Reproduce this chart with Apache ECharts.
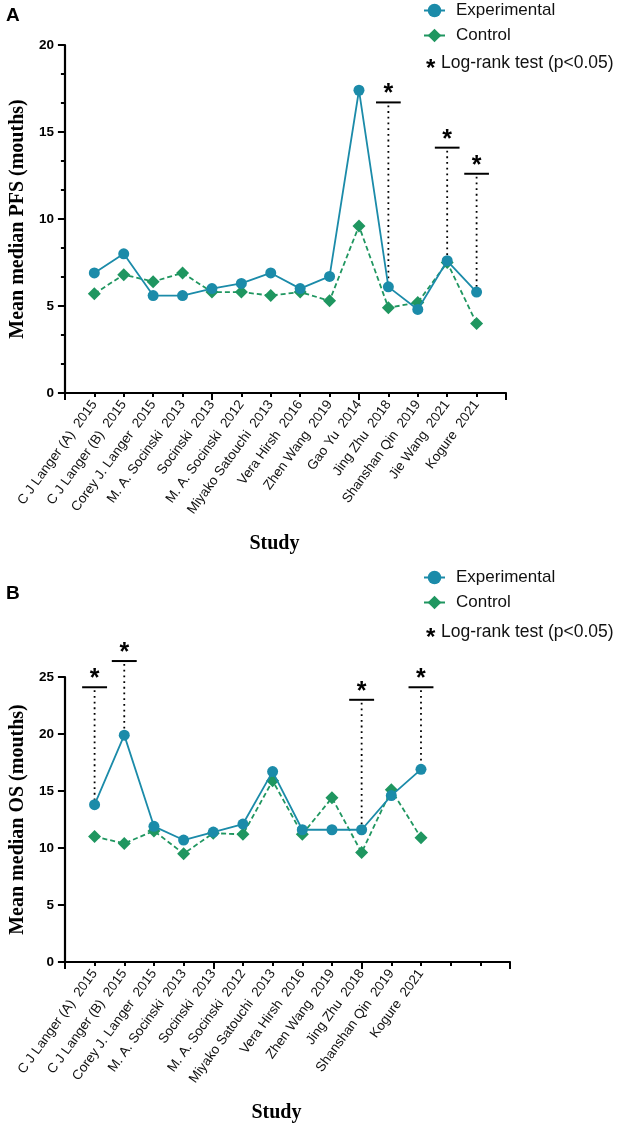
<!DOCTYPE html>
<html>
<head>
<meta charset="utf-8">
<script src="https://cdn.jsdelivr.net/npm/echarts@6/dist/echarts.min.js"></script>
<style>
  html, body { margin: 0; padding: 0; background: #fff; }
  #main { width: 624px; height: 1128px; }
</style>
</head>
<body>
<div id="main"></div>
<script>
// panel A: PFS
var studiesA = ['C J Langer (A)  2015', 'C J Langer (B)  2015', 'Corey J. Langer  2015', 'M. A. Socinski  2013',
    'Socinski  2013', 'M. A. Socinski  2012', 'Miyako Satouchi  2013', 'Vera Hirsh  2016', 'Zhen Wang  2019',
    'Gao Yu  2014', 'Jing Zhu  2018', 'Shanshan Qin  2019', 'Jie Wang  2021', 'Kogure  2021'];
var expA = [6.9, 8.0, 5.6, 5.6, 6.0, 6.3, 6.9, 6.0, 6.7, 17.4, 6.1, 4.8, 7.6, 5.8];
var ctrlA = [5.7, 6.8, 6.4, 6.9, 5.8, 5.8, 5.6, 5.8, 5.3, 9.6, 4.9, 5.2, 7.5, 4.0];
var sigIdxA = [11, 13, 14];
var sigTopA = [16.7, 14.1, 12.6];
var yTicksA = [0, 20];

// panel B: OS
var studiesB = ['C J Langer (A)  2015', 'C J Langer (B)  2015', 'Corey J. Langer  2015', 'M. A. Socinski  2013',
    'Socinski  2013', 'M. A. Socinski  2012', 'Miyako Satouchi  2013', 'Vera Hirsh  2016', 'Zhen Wang  2019',
    'Jing Zhu  2018', 'Shanshan Qin  2019', 'Kogure  2021'];
var expB = [13.8, 19.9, 11.9, 10.7, 11.4, 12.1, 16.7, 11.6, 11.6, 11.6, 14.6, 16.9];
var ctrlB = [11.0, 10.4, 11.5, 9.5, 11.3, 11.2, 15.9, 11.2, 14.4, 9.6, 15.1, 10.9];
var sigIdxB = [1, 2, 10, 12];
var sigTopB = [24.1, 26.4, 23.0, 24.1];
var yTicksB = [0, 25];

var C_EXP = '#1b8ba9';
var C_CTRL = '#1f9660';
var SANS = 'Liberation Sans, Arial, sans-serif';
var SERIF = 'Liberation Serif, Times New Roman, serif';

var chart = echarts.init(document.getElementById('main'));

function pairs(arr) {
    return arr.map(function (v, i) { return [i + 1, v]; });
}

function sigData(idx, tops, exp) {
    return idx.map(function (k, i) { return [k, tops[i], exp[k - 1]]; });
}

// horizontal bar + asterisk + dotted drop line to the experimental point
function renderSig(params, api) {
    var x = api.value(0);
    var p = api.coord([x, api.value(1)]);
    var q = api.coord([x, api.value(2)]);
    var w = api.size([0.84, 0])[0] / 2;
    return {
        type: 'group',
        children: [
            { type: 'line', shape: { x1: p[0] - w, y1: p[1], x2: p[0] + w, y2: p[1] },
              style: { stroke: '#000', lineWidth: 2 } },
            { type: 'line', shape: { x1: p[0], y1: p[1] + 3, x2: p[0], y2: q[1] },
              style: { stroke: '#000', lineWidth: 1.8, lineDash: [1.8, 3.9] } },
            { type: 'text', style: { text: '*', x: p[0], y: p[1] - 8, textAlign: 'center', textVerticalAlign: 'middle',
              font: 'bold 25px ' + SANS, fill: '#000' } }
        ]
    };
}

function xAxes(gridIndex, names) {
    return [{
        gridIndex: gridIndex, type: 'value', position: 'bottom', min: 0, max: 15, interval: 5,
        axisLine: { lineStyle: { color: '#000', width: 2.2 } },
        axisTick: { length: 7, lineStyle: { color: '#000', width: 2 } },
        minorTick: { show: true, splitNumber: 5, length: 4, lineStyle: { color: '#000', width: 2 } },
        axisLabel: { show: false },
        splitLine: { show: false },
        name: 'Study', nameLocation: 'middle', nameGap: 141,
        nameTextStyle: { fontFamily: SERIF, fontWeight: 'bold', fontSize: 20, color: '#000', padding: [0, 22, 0, 0] }
    }, {
        gridIndex: gridIndex, type: 'value', position: 'bottom', min: 0, max: 15, interval: 1,
        axisLine: { show: false }, axisTick: { show: false }, splitLine: { show: false },
        axisLabel: {
            rotate: 54, margin: 9, fontFamily: SANS, fontSize: 13.5, color: '#111',
            formatter: function (v) { return names[v - 1] || ''; }
        }
    }];
}

function yAxis(gridIndex, ticks, title, minor) {
    return {
        gridIndex: gridIndex, type: 'value', min: ticks[0], max: ticks[1], interval: 5,
        axisLine: { show: true, lineStyle: { color: '#000', width: 2.2 } },
        axisTick: { show: true, length: 7, lineStyle: { color: '#000', width: 2 } },
        minorTick: { show: minor, splitNumber: 3, length: 4, lineStyle: { color: '#000', width: 2 } },
        splitLine: { show: false },
        axisLabel: { margin: 11, fontFamily: SANS, fontWeight: 'bold', fontSize: 13.5, color: '#000' },
        name: title, nameLocation: 'middle', nameRotate: 90, nameGap: 28,
        nameTextStyle: { fontFamily: SERIF, fontWeight: 'bold', fontSize: 20, color: '#000' }
    };
}

function lineSeries(name, data, xi, yi, color, isCtrl) {
    return {
        name: name, type: 'line', xAxisIndex: xi, yAxisIndex: yi, data: data,
        symbol: isCtrl ? 'diamond' : 'circle', symbolSize: isCtrl ? 13 : 11,
        z: isCtrl ? 3 : 4,
        itemStyle: { color: color },
        lineStyle: { color: color, width: 1.8, type: isCtrl ? [5, 3] : 'solid' }
    };
}

function legend(top) {
    return {
        orient: 'vertical', left: 423, top: top, padding: 0, itemGap: 8,
        itemWidth: 21, itemHeight: 17,
        data: ['Experimental', 'Control'],
        textStyle: { fontFamily: SANS, fontSize: 17, color: '#111', padding: [0, 0, 0, 6] }
    };
}

function logRankText(cy) {
    return [
        { type: 'text', left: 426, top: cy - 7, style: { text: '*', font: 'bold 24px ' + SANS, fill: '#000' } },
        { type: 'text', left: 441, top: cy - 10, style: { text: 'Log-rank test (p<0.05)', font: '17.5px ' + SANS, fill: '#111' } }
    ];
}

var option = {
    animation: false,
    backgroundColor: '#fff',
    grid: [
        { left: 61, top: 45, width: 445, height: 348 },
        { left: 60, top: 677, width: 450, height: 285 }
    ],
    legend: [legend(2), legend(569)],
    xAxis: xAxes(0, studiesA).concat(xAxes(1, studiesB)),
    yAxis: [
        yAxis(0, yTicksA, 'Mean median PFS (mouths)', true),
        yAxis(1, yTicksB, 'Mean median OS (mouths)', false)
    ],
    graphic: [
        { type: 'text', left: 6, top: 6, style: { text: 'A', font: 'bold 19px ' + SANS, fill: '#000' } },
        { type: 'text', left: 6, top: 584, style: { text: 'B', font: 'bold 19px ' + SANS, fill: '#000' } }
    ].concat(logRankText(64), logRankText(633)),
    series: [
        { type: 'custom', xAxisIndex: 0, yAxisIndex: 0, renderItem: renderSig, clip: false, z: 2,
          data: sigData(sigIdxA, sigTopA, expA) },
        lineSeries('Experimental', pairs(expA), 0, 0, C_EXP, false),
        lineSeries('Control', pairs(ctrlA), 0, 0, C_CTRL, true),
        { type: 'custom', xAxisIndex: 2, yAxisIndex: 1, renderItem: renderSig, clip: false, z: 2,
          data: sigData(sigIdxB, sigTopB, expB) },
        lineSeries('Experimental', pairs(expB), 2, 1, C_EXP, false),
        lineSeries('Control', pairs(ctrlB), 2, 1, C_CTRL, true)
    ]
};

chart.setOption(option);
</script>
</body>
</html>
